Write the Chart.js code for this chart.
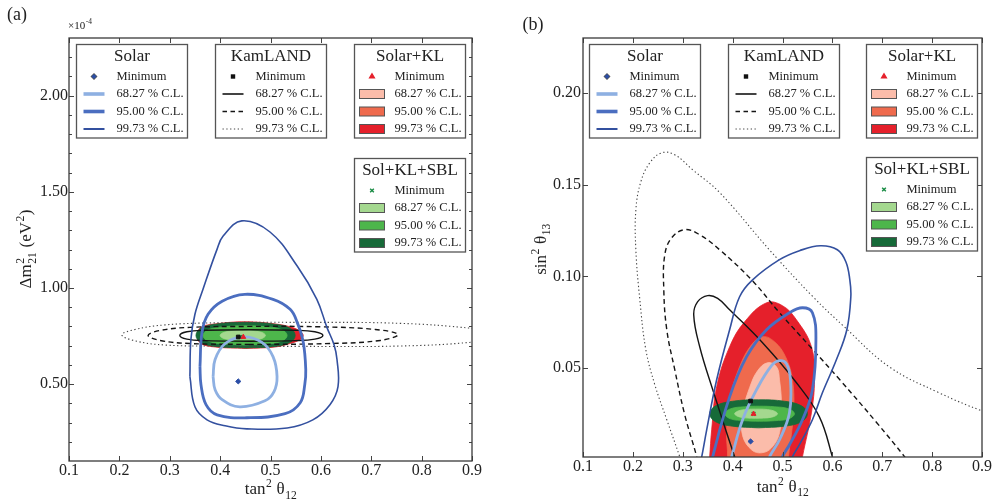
<!DOCTYPE html>
<html><head><meta charset="utf-8">
<script src="https://cdn.jsdelivr.net/npm/chart.js@4/dist/chart.umd.min.js"></script>
<style>
html,body{margin:0;padding:0;background:#fff}
body{width:995px;height:503px;overflow:hidden;position:relative}
canvas{position:absolute;top:0}
</style>
</head><body>
<canvas id="ca" width="497" height="503" style="left:0px"></canvas>
<canvas id="cb" width="498" height="503" style="left:497px"></canvas>
<script>
// ---------------- DATA ----------------
const xTickVals = [0.1,0.2,0.3,0.4,0.5,0.6,0.7,0.8,0.9];
const xTickLabels = ['0.1','0.2','0.3','0.4','0.5','0.6','0.7','0.8','0.9'];
const yTickValsA = [0.5,1.0,1.5,2.0];
const yTickLabelsA = ['0.50','1.00','1.50','2.00'];
const yMinorA = [0.2,0.3,0.4,0.6,0.7,0.8,0.9,1.1,1.2,1.3,1.4,1.6,1.7,1.8,1.9,2.1,2.2];
const yTickValsB = [0.05,0.10,0.15,0.20];
const yTickLabelsB = ['0.05','0.10','0.15','0.20'];
const xRange = [0.1,0.9];
const yRangeA = [0.1,2.3];
const yRangeB = [0.0015,0.23];

const legendTitles = ['Solar','KamLAND','Solar+KL','Sol+KL+SBL'];
const legendRows = ['Minimum','68.27 % C.L.','95.00 % C.L.','99.73 % C.L.'];

// Panel (a): tan^2 theta12 vs dm2_21 (x1e-4 eV^2)
const solarA68 = [[0.386,0.539],[0.390,0.628],[0.410,0.711],[0.445,0.745],[0.483,0.717],[0.505,0.643],[0.513,0.539],[0.507,0.461],[0.489,0.413],[0.439,0.382],[0.404,0.419],[0.390,0.471],[0.386,0.539]];
const solarA95 = [[0.360,0.591],[0.364,0.769],[0.376,0.863],[0.404,0.931],[0.449,0.967],[0.505,0.941],[0.539,0.889],[0.553,0.821],[0.565,0.717],[0.570,0.575],[0.568,0.497],[0.559,0.403],[0.529,0.346],[0.453,0.325],[0.394,0.340],[0.372,0.393],[0.362,0.497],[0.360,0.591]];
const solarA99 = [[0.340,0.539],[0.342,0.732],[0.350,0.863],[0.366,0.993],[0.394,1.202],[0.406,1.270],[0.443,1.349],[0.499,1.291],[0.553,1.114],[0.592,0.941],[0.612,0.795],[0.626,0.706],[0.632,0.628],[0.634,0.487],[0.618,0.393],[0.584,0.314],[0.533,0.272],[0.453,0.267],[0.410,0.283],[0.374,0.314],[0.350,0.382],[0.340,0.539]];
const kamA68 = [[0.459,0.723],[0.370,0.726],[0.334,0.734],[0.320,0.753],[0.334,0.772],[0.370,0.780],[0.459,0.783],[0.549,0.780],[0.588,0.772],[0.604,0.753],[0.588,0.734],[0.549,0.726],[0.459,0.723]];
const kamA95 = [[0.459,0.706],[0.340,0.711],[0.281,0.727],[0.257,0.753],[0.281,0.779],[0.340,0.795],[0.459,0.800],[0.598,0.798],[0.708,0.784],[0.753,0.758],[0.718,0.727],[0.618,0.711],[0.459,0.706]];
const kamA99 = [[0.400,0.697],[0.291,0.703],[0.231,0.725],[0.205,0.756],[0.231,0.784],[0.291,0.808],[0.400,0.819],[0.559,0.821],[0.757,0.816],[0.900,0.790],[0.995,0.755],[0.900,0.718],[0.757,0.698],[0.559,0.696],[0.400,0.697]];
const redA68 = [[0.450,0.728],[0.420,0.734],[0.405,0.753],[0.420,0.772],[0.450,0.778],[0.480,0.772],[0.495,0.753],[0.480,0.734],[0.450,0.728]];
const redA95 = [[0.460,0.703],[0.420,0.706],[0.380,0.722],[0.368,0.753],[0.380,0.785],[0.420,0.800],[0.460,0.803],[0.500,0.800],[0.530,0.785],[0.540,0.753],[0.530,0.722],[0.500,0.706],[0.460,0.703]];
const redA99 = [[0.451,0.685],[0.390,0.693],[0.362,0.711],[0.354,0.753],[0.362,0.795],[0.390,0.813],[0.451,0.824],[0.509,0.813],[0.543,0.795],[0.559,0.774],[0.565,0.753],[0.559,0.732],[0.539,0.711],[0.509,0.693],[0.451,0.685]];
const greenA68 = [[0.445,0.730],[0.410,0.735],[0.400,0.753],[0.410,0.771],[0.445,0.777],[0.480,0.771],[0.490,0.753],[0.480,0.735],[0.445,0.730]];
const greenA95 = [[0.449,0.703],[0.404,0.709],[0.376,0.724],[0.366,0.753],[0.376,0.782],[0.404,0.797],[0.449,0.803],[0.495,0.797],[0.523,0.782],[0.533,0.753],[0.523,0.724],[0.495,0.709],[0.449,0.703]];
const greenA99 = [[0.451,0.688],[0.390,0.696],[0.362,0.717],[0.352,0.753],[0.362,0.790],[0.390,0.811],[0.451,0.821],[0.509,0.811],[0.539,0.790],[0.549,0.753],[0.539,0.717],[0.509,0.696],[0.451,0.688]];
const minSolarA = [0.436,0.514];
const minKamA = [0.436,0.745];
const minSolKLA = [0.446,0.745];
const minSBLA = [0.440,0.745];

// Panel (b): tan^2 theta12 vs sin^2 theta13
const kamB68 = [[0.414,-0.0055],[0.404,0.0016],[0.360,0.0383],[0.334,0.0616],[0.322,0.0790],[0.330,0.0862],[0.350,0.0895],[0.370,0.0880],[0.394,0.0818],[0.460,0.0638],[0.528,0.0420],[0.574,0.0234],[0.600,0.0016],[0.606,-0.0055]];
const kamB95 = [[0.333,-0.0055],[0.328,0.0016],[0.304,0.0245],[0.284,0.0491],[0.268,0.0709],[0.262,0.0927],[0.264,0.1118],[0.278,0.1211],[0.304,0.1255],[0.334,0.1227],[0.374,0.1145],[0.438,0.0981],[0.494,0.0802],[0.561,0.0600],[0.615,0.0436],[0.689,0.0202],[0.745,0.0016],[0.765,-0.0055]];
const kamB99 = [[0.300,-0.004],[0.294,0.0016],[0.268,0.0218],[0.244,0.0409],[0.226,0.0600],[0.214,0.0872],[0.206,0.1144],[0.206,0.1363],[0.216,0.1516],[0.234,0.1619],[0.258,0.1674],[0.284,0.1663],[0.320,0.1581],[0.374,0.1457],[0.474,0.1144],[0.561,0.0889],[0.624,0.0725],[0.714,0.0507],[0.814,0.0365],[0.899,0.0267],[0.935,0.0235]];
const solarB68 = [[0.390,-0.0055],[0.398,0.0016],[0.420,0.0218],[0.448,0.0382],[0.478,0.0513],[0.494,0.0540],[0.508,0.0523],[0.516,0.0436],[0.514,0.0256],[0.494,0.0109],[0.474,0.0016],[0.466,-0.0055]];
const solarB95 = [[0.356,-0.0055],[0.360,0.0016],[0.394,0.0343],[0.428,0.0562],[0.468,0.0709],[0.514,0.0802],[0.540,0.0829],[0.560,0.0802],[0.567,0.0650],[0.560,0.0382],[0.540,0.0218],[0.514,0.0082],[0.500,0.0016],[0.494,-0.0055]];
const solarB99 = [[0.332,-0.0055],[0.338,0.0016],[0.348,0.0163],[0.368,0.0436],[0.394,0.0709],[0.414,0.0889],[0.440,0.0981],[0.494,0.1091],[0.534,0.1140],[0.576,0.1167],[0.610,0.1145],[0.627,0.1080],[0.635,0.0981],[0.637,0.0889],[0.629,0.0709],[0.608,0.0545],[0.580,0.0365],[0.560,0.0218],[0.534,0.0082],[0.520,0.0016],[0.512,-0.0055]];
const redB68 = [[0.418,0.0256],[0.434,0.0393],[0.450,0.0485],[0.470,0.0529],[0.488,0.0507],[0.494,0.0436],[0.498,0.0289],[0.494,0.0147],[0.478,0.0065],[0.458,0.0038],[0.438,0.0054],[0.420,0.0131],[0.418,0.0256]];
const redB95 = [[0.388,-0.0055],[0.390,0.0016],[0.388,0.0147],[0.394,0.0327],[0.414,0.0507],[0.438,0.0627],[0.461,0.0671],[0.484,0.0643],[0.506,0.0562],[0.520,0.0436],[0.522,0.0256],[0.512,0.0016],[0.510,-0.0055]];
const redB99 = [[0.352,-0.0055],[0.354,0.0016],[0.358,0.0163],[0.368,0.0398],[0.394,0.0616],[0.424,0.0752],[0.468,0.0856],[0.500,0.0840],[0.528,0.0763],[0.558,0.0616],[0.564,0.0436],[0.558,0.0256],[0.540,0.0016],[0.536,-0.0055]];
const greenB68 = [[0.446,0.0226],[0.416,0.0232],[0.404,0.0251],[0.416,0.0270],[0.446,0.0276],[0.478,0.0270],[0.490,0.0251],[0.478,0.0232],[0.446,0.0226]];
const greenB95 = [[0.454,0.0210],[0.424,0.0213],[0.396,0.0223],[0.384,0.0251],[0.396,0.0278],[0.424,0.0289],[0.454,0.0292],[0.484,0.0289],[0.512,0.0278],[0.524,0.0251],[0.512,0.0223],[0.484,0.0213],[0.454,0.0210]];
const greenB99 = [[0.452,0.0174],[0.400,0.0183],[0.366,0.0207],[0.354,0.0251],[0.366,0.0294],[0.400,0.0319],[0.452,0.0327],[0.504,0.0319],[0.538,0.0294],[0.550,0.0251],[0.538,0.0207],[0.504,0.0183],[0.452,0.0174]];
const minSolarB = [0.436,0.010];
const minKamB = [0.436,0.032];
const minSolKLB = [0.442,0.025];
const minSBLB = [0.442,0.025];

// ---------------- STYLE ----------------
const FONT = '"Liberation Serif","DejaVu Serif","Times New Roman",serif';
const TXT = '#222';
const C = {
  s68:'#8eb0e2', s95:'#4b6ec0', s99:'#33509f',
  k:'#151515', kdot:'#444444',
  r68:'#fbbcaa', r95:'#ef6a4d', r99:'#e5202b',
  g68:'#a4d88f', g95:'#4db64b', g99:'#176a39'
};

const pts = arr => arr.map(([x,y]) => ({x, y}));
function lineDS(label, data, color, width, dash, order){
  return {label, data: pts(data), showLine:true, borderColor:color, backgroundColor:color,
    borderWidth:width, borderDash:dash||[], pointRadius:0, pointHoverRadius:0, tension:0.4,
    fill:false, order, clip:0};
}
function fillDS(label, data, color, order){
  return {label, data: pts(data), showLine:true, borderColor:color, backgroundColor:color,
    borderWidth:0.8, pointRadius:0, pointHoverRadius:0, tension:0.4, fill:'shape', order, clip:0};
}
function markDS(label, p, style, r, color, bw, order){
  return {label, data:[{x:p[0], y:p[1]}], showLine:false, pointStyle:style, pointRadius:r,
    pointHoverRadius:r, backgroundColor:color, borderColor:color, borderWidth:bw, order};
}
function datasets(P){
  return [
    markDS('Solar Minimum', P.minS, 'rectRot', 2.6, '#2b4ea6', 1, 0),
    markDS('KamLAND Minimum', P.minK, 'rect', 2.6, '#111', 1, 0),
    markDS('Solar+KL Minimum', P.minR, 'triangle', 2.8, '#e5202b', 1, 0),
    markDS('Sol+KL+SBL Minimum', P.minG, 'crossRot', 2.6, '#1a8c45', 1.4, 0),
    lineDS('Solar 68.27 %', P.s68, C.s68, 2.8, null, 1),
    lineDS('Solar 95.00 %', P.s95, C.s95, 2.8, null, 1),
    lineDS('Solar 99.73 %', P.s99, C.s99, 1.6, null, 1),
    lineDS('KamLAND 68.27 %', P.k68, C.k, 1.4, null, 2),
    lineDS('KamLAND 95.00 %', P.k95, C.k, 1.4, [5,3.5], 2),
    lineDS('KamLAND 99.73 %', P.k99, C.kdot, 1.1, [1.3,2.5], 2),
    fillDS('Sol+KL+SBL 68.27 %', P.g68, C.g68, 3),
    fillDS('Sol+KL+SBL 95.00 %', P.g95, C.g95, 4),
    fillDS('Sol+KL+SBL 99.73 %', P.g99, C.g99, 5),
    fillDS('Solar+KL 68.27 %', P.r68, C.r68, 6),
    fillDS('Solar+KL 95.00 %', P.r95, C.r95, 7),
    fillDS('Solar+KL 99.73 %', P.r99, C.r99, 8)
  ];
}

// ---------------- TEXT HELPERS ----------------
function partsWidth(ctx, parts, size){
  let w = 0;
  for (const p of parts){
    if (p.t !== undefined){ ctx.font = size+'px '+FONT; w += ctx.measureText(p.t).width; }
    else { ctx.font = (size*0.68)+'px '+FONT;
      const a = p.sup ? ctx.measureText(p.sup).width : 0, b = p.sub ? ctx.measureText(p.sub).width : 0;
      w += Math.max(a,b) + 1; }
  }
  return w;
}
function drawParts(ctx, parts, x, y, size){
  let cx = x;
  ctx.textAlign = 'left'; ctx.textBaseline = 'alphabetic';
  for (const p of parts){
    if (p.t !== undefined){ ctx.font = size+'px '+FONT; ctx.fillText(p.t, cx, y); cx += ctx.measureText(p.t).width; }
    else { ctx.font = (size*0.68)+'px '+FONT;
      const a = p.sup ? ctx.measureText(p.sup).width : 0, b = p.sub ? ctx.measureText(p.sub).width : 0;
      if (p.sup) ctx.fillText(p.sup, cx+0.5, y - size*0.40);
      if (p.sub) ctx.fillText(p.sub, cx+0.5, y + size*0.27);
      cx += Math.max(a,b) + 1; }
  }
}
function drawPartsCentered(ctx, parts, cx, y, size){
  drawParts(ctx, parts, cx - partsWidth(ctx, parts, size)/2, y, size);
}

// ---------------- FRAME / TICKS / LEGENDS ----------------
function drawFrame(chart, yMajor, yMinor){
  const {ctx, chartArea:a, scales:{x, y}} = chart;
  ctx.save();
  ctx.strokeStyle = '#444'; ctx.lineWidth = 1;
  ctx.beginPath();
  for (const v of xTickVals){
    const px = Math.round(x.getPixelForValue(v)) + 0.5;
    ctx.moveTo(px, a.bottom); ctx.lineTo(px, a.bottom-5);
    ctx.moveTo(px, a.top); ctx.lineTo(px, a.top+5);
  }
  for (const v of yMajor){
    const py = Math.round(y.getPixelForValue(v)) + 0.5;
    ctx.moveTo(a.left, py); ctx.lineTo(a.left+5, py);
    ctx.moveTo(a.right, py); ctx.lineTo(a.right-5, py);
  }
  for (const v of yMinor){
    const py = Math.round(y.getPixelForValue(v)) + 0.5;
    ctx.moveTo(a.left, py); ctx.lineTo(a.left+3, py);
    ctx.moveTo(a.right, py); ctx.lineTo(a.right-3, py);
  }
  ctx.stroke();
  ctx.lineWidth = 1.3; ctx.strokeStyle = '#3a3a3a';
  ctx.strokeRect(a.left, a.top, a.right-a.left, a.bottom-a.top);
  ctx.restore();
}

function drawMarker(ctx, kind, x, y){
  ctx.save();
  if (kind === 0){ ctx.fillStyle = '#2b4ea6'; Chart.helpers.drawPoint(ctx, {pointStyle:'rectRot', radius:2.6, borderWidth:1}, x, y); ctx.fill(); }
  if (kind === 1){ ctx.fillStyle = '#111'; ctx.fillRect(x-2.2, y-2.2, 4.4, 4.4); }
  if (kind === 2){ ctx.fillStyle = '#e5202b'; ctx.strokeStyle = '#e5202b'; Chart.helpers.drawPoint(ctx, {pointStyle:'triangle', radius:2.8, borderWidth:1}, x, y); }
  if (kind === 3){ ctx.strokeStyle = '#1a8c45'; ctx.lineWidth = 1.4; Chart.helpers.drawPoint(ctx, {pointStyle:'crossRot', radius:2.6, borderWidth:1.4}, x, y); }
  ctx.restore();
}

const legendSamples = [
  [{c:C.s68, w:3.6},{c:C.s95, w:3.6},{c:C.s99, w:2}],
  [{c:C.k, w:1.6, d:[]},{c:C.k, w:1.6, d:[4.5,3.5]},{c:C.kdot, w:1, d:[1.3,2.5]}],
  [{f:C.r68},{f:C.r95},{f:C.r99}],
  [{f:C.g68},{f:C.g95},{f:C.g99}]
];

function drawLegends(chart, offsets){
  const {ctx, chartArea:a} = chart;
  const W = 111, H = 93.5;
  ctx.save();
  offsets.forEach(([ox, oy], k) => {
    const bx = Math.round(a.left + ox) + 0.5, by = Math.round(a.top + oy) + 0.5;
    ctx.fillStyle = '#fff'; ctx.fillRect(bx, by, W, H);
    ctx.strokeStyle = '#555'; ctx.lineWidth = 1.3; ctx.setLineDash([]);
    ctx.strokeRect(bx, by, W, H);
    ctx.fillStyle = TXT; ctx.textAlign = 'center'; ctx.textBaseline = 'middle';
    ctx.font = '17px '+FONT;
    ctx.fillText(legendTitles[k], bx + W/2, by + 12);
    const rowY = [32, 49.5, 67, 84.5];
    ctx.font = '12.5px '+FONT; ctx.textAlign = 'left';
    rowY.forEach((ry, i) => { ctx.fillStyle = TXT; ctx.fillText(legendRows[i], bx + 40, by + ry); });
    drawMarker(ctx, k, bx + 17.5, by + rowY[0]);
    legendSamples[k].forEach((s, i) => {
      const yy = by + rowY[i+1];
      if (s.f){
        ctx.fillStyle = s.f; ctx.fillRect(bx+5, yy-4.5, 25, 9);
        ctx.strokeStyle = '#555'; ctx.lineWidth = 1; ctx.strokeRect(bx+5, yy-4.5, 25, 9);
      } else {
        ctx.strokeStyle = s.c; ctx.lineWidth = s.w; ctx.setLineDash(s.d || []);
        ctx.beginPath(); ctx.moveTo(bx+7, yy); ctx.lineTo(bx+28, yy); ctx.stroke();
        ctx.setLineDash([]);
      }
    });
  });
  ctx.restore();
}

// ---------------- CHART BUILDER ----------------
function makeChart(id, P){
  const yTickVals = P.yTicks, yTickLabels = P.yLabels;
  return new Chart(document.getElementById(id), {
    type:'scatter',
    data:{datasets: datasets(P)},
    options:{
      responsive:false, animation:false, events:[],
      layout:{padding:{top:38, right:P.padRight, left:0, bottom:0}},
      elements:{line:{capBezierPoints:false}},
      plugins:{legend:{display:false}, tooltip:{enabled:false}},
      scales:{
        x:{type:'linear', min:xRange[0], max:xRange[1],
          grid:{display:false, drawTicks:false}, border:{display:false},
          ticks:{padding:0, color:TXT, font:{family:FONT, size:16}, autoSkip:false, maxRotation:0,
            callback:(v,i)=>xTickLabels[i]},
          afterBuildTicks:s=>{ s.ticks = xTickVals.map(v=>({value:v})); },
          afterFit:s=>{ s.height = P.xAxisH; s.paddingLeft = 0; s.paddingRight = 0; }},
        y:{type:'linear', min:P.yRange[0], max:P.yRange[1],
          grid:{display:false, drawTicks:false}, border:{display:false},
          ticks:{padding:P.yPad, color:TXT, font:{family:FONT, size:16}, autoSkip:false,
            callback:(v,i)=>yTickLabels[i]},
          afterBuildTicks:s=>{ s.ticks = yTickVals.map(v=>({value:v})); },
          afterFit:s=>{ s.width = P.yAxisW; s.paddingTop = 0; s.paddingBottom = 0; }}
      }
    },
    plugins:[{
      id:'decor',
      afterDatasetsDraw(chart){ drawFrame(chart, yTickVals, P.yMinor); },
      afterDraw(chart){
        drawLegends(chart, P.legendOffsets);
        const ctx = chart.ctx;
        ctx.save(); ctx.fillStyle = TXT;
        P.texts(ctx);
        ctx.restore();
      }
    }]
  });
}

makeChart('ca', {
  s68:solarA68, s95:solarA95, s99:solarA99, k68:kamA68, k95:kamA95, k99:kamA99,
  r68:redA68, r95:redA95, r99:redA99, g68:greenA68, g95:greenA95, g99:greenA99,
  minS:minSolarA, minK:minKamA, minR:minSolKLA, minG:minSBLA,
  yTicks:yTickValsA, yLabels:yTickLabelsA, yMinor:yMinorA, yRange:yRangeA,
  padRight:25, xAxisH:42, yAxisW:69, yPad:1,
  legendOffsets:[[7,6],[146,6],[285,6],[285,119.5]],
  texts(ctx){
    ctx.font = '18px '+FONT; ctx.textAlign = 'left'; ctx.textBaseline = 'alphabetic';
    ctx.fillText('(a)', 7, 19.5);
    drawParts(ctx, [{t:'×10'},{sup:'-4'}], 68, 28.5, 11);
    drawPartsCentered(ctx, [{t:'tan'},{sup:'2'},{t:' θ'},{sub:'12'}], 271, 494, 17);
    ctx.save(); ctx.translate(31, 249); ctx.rotate(-Math.PI/2);
    drawPartsCentered(ctx, [{t:'Δm'},{sup:'2', sub:'21'},{t:' (eV'},{sup:'2'},{t:')'}], 0, 0, 17);
    ctx.restore();
  }
});

makeChart('cb', {
  s68:solarB68, s95:solarB95, s99:solarB99, k68:kamB68, k95:kamB95, k99:kamB99,
  r68:redB68, r95:redB95, r99:redB99, g68:greenB68, g95:greenB95, g99:greenB99,
  minS:minSolarB, minK:minKamB, minR:minSolKLB, minG:minSBLB,
  yTicks:yTickValsB, yLabels:yTickLabelsB, yMinor:[], yRange:yRangeB,
  padRight:13, xAxisH:46, yAxisW:86, yPad:2,
  legendOffsets:[[6,6],[145,6],[283,6],[283,118.5]],
  texts(ctx){
    ctx.font = '18px '+FONT; ctx.textAlign = 'left'; ctx.textBaseline = 'alphabetic';
    ctx.fillText('(b)', 25.5, 29.5);
    drawPartsCentered(ctx, [{t:'tan'},{sup:'2'},{t:' θ'},{sub:'12'}], 286, 491.5, 17);
    ctx.save(); ctx.translate(48.5, 249); ctx.rotate(-Math.PI/2);
    drawPartsCentered(ctx, [{t:'sin'},{sup:'2'},{t:' θ'},{sub:'13'}], 0, 0, 17);
    ctx.restore();
  }
});
</script>
</body></html>
